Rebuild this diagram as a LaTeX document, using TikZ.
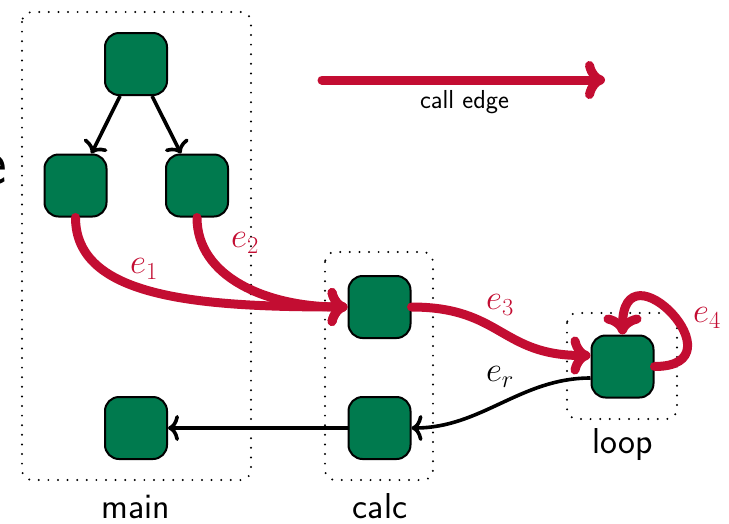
\RequirePackage{fix-cm}
\documentclass[tikz,border=0pt]{standalone}
\usetikzlibrary{arrows.meta}
\definecolor{fngreen}{RGB}{0,122,78}
\definecolor{callred}{RGB}{195,13,50}
\tikzset{
  x=1pt, y=1pt,
  fnbox/.style={draw=black, fill=fngreen, line width=2pt, rounded corners=14pt,
    minimum width=62pt, minimum height=62pt, inner sep=0pt},
  grpbox/.style={draw=black, line width=2.2pt, line cap=round,
    dash pattern=on 0pt off 9.6pt, rounded corners=10pt},
  grplabel/.style={font=\sffamily\fontsize{36}{42}\selectfont, inner sep=0pt, anchor=base},
  callarrow/.style={draw=callred, line width=9pt, line cap=round,
    -{Computer Modern Rightarrow[length=20pt, width=38pt]}},
  retarrow/.style={draw=black, line width=3.6pt,
    -{Computer Modern Rightarrow[length=11pt, width=26pt]}},
  elabel/.style={font=\fontsize{35}{42}\selectfont, inner sep=0pt},
}
\begin{document}
\begin{tikzpicture}
\useasboundingbox (0,0) rectangle (729,-523);

% partly visible letter at the left margin
\node[font=\sffamily\fontsize{66}{70}\selectfont, anchor=base east, inner sep=0pt] (cut) at (7,-184) {e};

% function groups
\draw[grpbox] (22,-12) rectangle (251,-480);
\draw[grpbox] (325,-252) rectangle (433,-480);
\draw[grpbox] (567,-313) rectangle (677,-419);

\node[grplabel] (mainlbl) at (136,-518) {main};
\node[grplabel] (calclbl) at (380,-518) {calc};
\node[grplabel] (looplbl) at (622.5,-453) {loop};

% basic blocks
\node[fnbox] (m0) at (136,-64) {};
\node[fnbox] (m1) at (75.5,-185.5) {};
\node[fnbox] (m2) at (197,-185.5) {};
\node[fnbox] (m3) at (136,-428) {};
\node[fnbox] (c1) at (379.5,-307) {};
\node[fnbox] (c2) at (379.5,-428) {};
\node[fnbox] (l1) at (622.5,-366.5) {};

% intra-procedural edges
\draw[retarrow] (m0) -- (m1);
\draw[retarrow] (m0) -- (m2);

% call edges
\draw[callarrow] (m1.south) .. controls +(0,-80) and +(-150,0) .. (c1.west);
\draw[callarrow] (m2.south) .. controls +(0,-60) and +(-80,0) .. (c1.west);
\draw[callarrow] (c1.east) .. controls +(90,0) and +(-90,0) .. ([yshift=11pt]l1.west);
\draw[callarrow] (l1.east) .. controls +(90,0) and +(0,95) .. (l1.north);

% return edges
\draw[retarrow] ([yshift=-11.5pt]l1.west) .. controls +(-70,0) and +(70,0) .. (c2.east);
\draw[retarrow] (c2.west) -- (m3.east);

% edge labels
\node[elabel, text=callred] (e1) at (144,-269) {$e_1$};
\node[elabel, text=callred] (e2) at (245,-243) {$e_2$};
\node[elabel, text=callred] (e3) at (500,-305) {$e_3$};
\node[elabel, text=callred] (e4) at (707,-318) {$e_4$};
\node[elabel] (er) at (500,-377) {$e_r$};

% legend
\coordinate (legA) at (322,-80);
\coordinate (legB) at (605,-80);
\draw[callarrow] (legA) -- (legB);
\node[font=\sffamily\fontsize{26}{30}\selectfont, inner sep=0pt, anchor=base] (leglbl) at (464.5,-108) {call edge};
\end{tikzpicture}
\end{document}
